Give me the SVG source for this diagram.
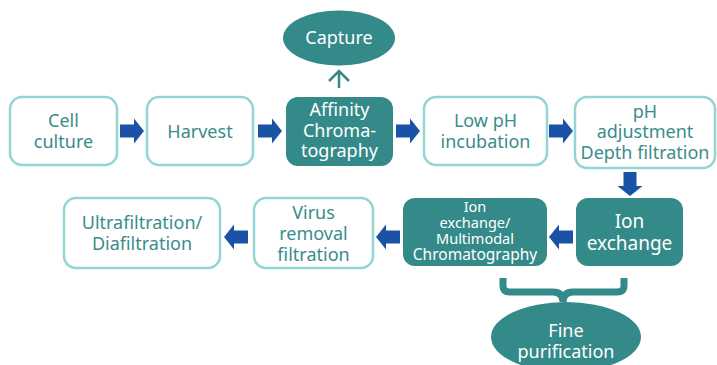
<svg xmlns="http://www.w3.org/2000/svg" width="717" height="365" viewBox="0 0 717 365">
<defs>
<style>
.lb{fill:#fff;stroke:#92D5D4;stroke-width:2.5}
.db{fill:#338A89;stroke:none}
.t{font-family:"Noto Sans","Open Sans","DejaVu Sans",sans-serif;font-size:18px;text-anchor:middle}
.tl{fill:#3A8C8B}
.td{fill:#fff}
.sm{font-size:14.5px}
.ar{fill:#1A52A5}
</style>
<path id="ar" d="M0,-6.5 H14 V-12.5 L24,0 L14,12.5 V6.5 H0 Z"/>
</defs>
<rect width="717" height="365" fill="#fff"/>
<g id="capture">
<ellipse cx="339" cy="38" rx="56" ry="27.5" class="db"/>
<text x="339" y="44" class="t td">Capture</text>
</g>
<g id="cell-culture">
<rect x="10" y="97" width="107" height="68" rx="12" class="lb"/>
<text x="63.5" y="127" class="t tl">Cell</text>
<text x="63.5" y="148" class="t tl">culture</text>
</g>
<g id="harvest">
<rect x="147" y="97" width="106" height="68" rx="12" class="lb"/>
<text x="200" y="138" class="t tl">Harvest</text>
</g>
<g id="affinity">
<rect x="286" y="97" width="107" height="69" rx="12" class="db"/>
<text x="339.5" y="116" class="t td">Affinity</text>
<text x="339.5" y="137" class="t td">Chroma-</text>
<text x="339.5" y="157" class="t td">tography</text>
</g>
<g id="low-ph">
<rect x="424" y="97" width="123" height="68" rx="12" class="lb"/>
<text x="485.5" y="127" class="t tl">Low pH</text>
<text x="485.5" y="148" class="t tl">incubation</text>
</g>
<g id="ph-adjust">
<rect x="575" y="97" width="140" height="71" rx="12" class="lb"/>
<text x="645" y="118" class="t tl">pH</text>
<text x="645" y="138" class="t tl">adjustment</text>
<text x="645" y="159" class="t tl">Depth filtration</text>
</g>
<g id="ion-exchange">
<rect x="576" y="198" width="107" height="68" rx="12" class="db"/>
<text x="629.5" y="228" class="t td" style="font-size:19px">Ion</text>
<text x="629.5" y="250" class="t td" style="font-size:19px">exchange</text>
</g>
<g id="ion-multimodal">
<rect x="403" y="198" width="144" height="68" rx="12" class="db"/>
<text x="475" y="212" class="t td sm">Ion</text>
<text x="475" y="228" class="t td sm">exchange/</text>
<text x="475" y="244" class="t td sm">Multimodal</text>
<text x="475" y="260" class="t td sm" style="font-size:15.5px">Chromatography</text>
</g>
<g id="virus">
<rect x="254" y="198" width="119" height="70" rx="12" class="lb"/>
<text x="313.5" y="219" class="t tl">Virus</text>
<text x="313.5" y="240" class="t tl">removal</text>
<text x="313.5" y="261" class="t tl">filtration</text>
</g>
<g id="ultrafiltration">
<rect x="64" y="198" width="156" height="70" rx="12" class="lb"/>
<text x="142" y="229" class="t tl">Ultrafiltration/</text>
<text x="142" y="250" class="t tl">Diafiltration</text>
</g>
<g id="fine">
<ellipse cx="566" cy="337" rx="75" ry="35" class="db"/>
<text x="566" y="337" class="t td">Fine</text>
<text x="566" y="358" class="t td">purification</text>
</g>
<g id="connectors">
<use href="#ar" x="120" y="131" class="ar"/>
<use href="#ar" x="258" y="131" class="ar"/>
<use href="#ar" x="396" y="131" class="ar"/>
<use href="#ar" x="549" y="131" class="ar"/>
<use href="#ar" transform="translate(630,172) rotate(90)" class="ar"/>
<use href="#ar" transform="translate(573,237) rotate(180)" class="ar"/>
<use href="#ar" transform="translate(400,237) rotate(180)" class="ar"/>
<use href="#ar" transform="translate(248,237) rotate(180)" class="ar"/>
<path d="M339,88 V72 M329,81 L339,71 L349,81" fill="none" stroke="#338A89" stroke-width="2.5"/>
<path d="M503,278 V286 Q503,292 510,292 H553 Q563,292 563,302 Q563,292 573,292 H617 Q624,292 624,286 V278" fill="none" stroke="#338A89" stroke-width="7"/>
</g>
</svg>
